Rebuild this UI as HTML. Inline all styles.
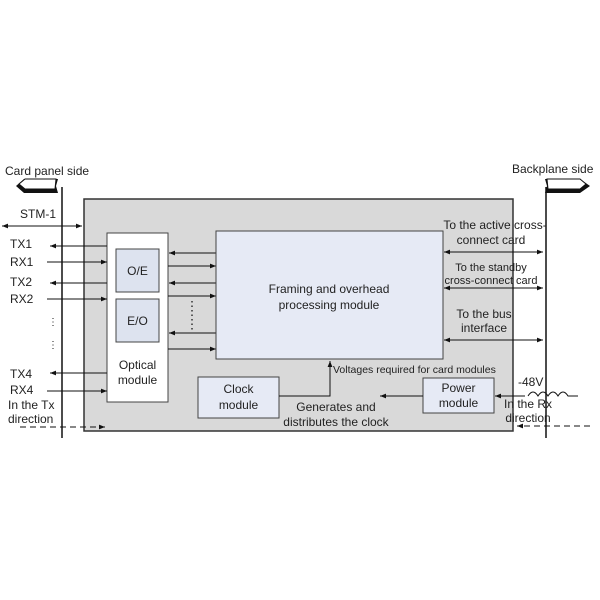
<!DOCTYPE html>
<html><head><meta charset="utf-8"><style>
html,body{margin:0;padding:0;background:#fff;}
svg{display:block;}
text{font-family:"Liberation Sans",Arial,sans-serif;fill:#222;}
</style></head><body>
<svg width="600" height="600" viewBox="0 0 600 600" xmlns="http://www.w3.org/2000/svg">
<defs>
<marker id="a" viewBox="0 0 10 10" refX="10" refY="5" markerWidth="7" markerHeight="6" orient="auto-start-reverse" markerUnits="userSpaceOnUse"><path d="M0,1 L10,5 L0,9 z" fill="#111"/></marker>
</defs>
<!-- outer box -->
<rect x="84" y="199" width="429" height="232" fill="#d9d9d9" stroke="#333" stroke-width="1.5"/>
<!-- vertical lines -->
<line x1="62" y1="187" x2="62" y2="438" stroke="#111" stroke-width="1.5"/>
<line x1="546" y1="187" x2="546" y2="438" stroke="#111" stroke-width="1.5"/>
<!-- fat arrows -->
<path d="M58,179 L24,179 L16,186 L24,193 L58,193 L56,186 Z" fill="#111"/>
<path d="M56,179 L25,179 L19,184 L25,189 L55,189 Z" fill="#fff" stroke="#111" stroke-width="1"/>
<path d="M545,179 L580,179 L590,186 L580,193 L545,193 L547,186 Z" fill="#111"/>
<path d="M547,179 L580,179 L586,184 L580,189 L548,189 Z" fill="#fff" stroke="#111" stroke-width="1"/>
<text x="5" y="175" font-size="12">Card panel side</text>
<text x="512" y="173" font-size="12">Backplane side</text>
<!-- STM-1 -->
<text x="20" y="218" font-size="12">STM-1</text>
<line x1="2" y1="226" x2="82" y2="226" stroke="#111" marker-start="url(#a)" marker-end="url(#a)"/>
<!-- optical module -->
<rect x="107" y="233" width="61" height="169" fill="#fff" stroke="#444"/>
<rect x="116" y="249" width="43" height="43" fill="#dde3ef" stroke="#444"/>
<rect x="116" y="299" width="43" height="43" fill="#dde3ef" stroke="#444"/>
<text x="137.5" y="275" font-size="12" text-anchor="middle">O/E</text>
<text x="137.5" y="325" font-size="12" text-anchor="middle">E/O</text>
<text x="137.5" y="369" font-size="12" text-anchor="middle">Optical</text>
<text x="137.5" y="384" font-size="12" text-anchor="middle">module</text>
<!-- TX/RX -->
<g font-size="12">
<text x="10" y="248">TX1</text><text x="10" y="266">RX1</text>
<text x="10" y="286">TX2</text><text x="10" y="303">RX2</text>
<text x="10" y="378">TX4</text><text x="10" y="394">RX4</text>
<text x="8" y="409">In the Tx</text><text x="8" y="423">direction</text>
<text x="48" y="325" font-size="10">⋮</text><text x="48" y="348" font-size="10">⋮</text>
</g>
<g stroke="#111" fill="none">
<line x1="107" y1="246" x2="50" y2="246" marker-end="url(#a)"/>
<line x1="47" y1="262" x2="107" y2="262" marker-end="url(#a)"/>
<line x1="107" y1="283" x2="50" y2="283" marker-end="url(#a)"/>
<line x1="47" y1="299" x2="107" y2="299" marker-end="url(#a)"/>
<line x1="107" y1="373" x2="50" y2="373" marker-end="url(#a)"/>
<line x1="47" y1="391" x2="107" y2="391" marker-end="url(#a)"/>
<line x1="20" y1="427" x2="105" y2="427" stroke-dasharray="6,4" marker-end="url(#a)"/>
<!-- opt to framing -->
<line x1="216" y1="253" x2="169" y2="253" marker-end="url(#a)"/>
<line x1="168" y1="266" x2="216" y2="266" marker-end="url(#a)"/>
<line x1="216" y1="283" x2="169" y2="283" marker-end="url(#a)"/>
<line x1="168" y1="296" x2="216" y2="296" marker-end="url(#a)"/>
<line x1="216" y1="333" x2="169" y2="333" marker-end="url(#a)"/>
<line x1="168" y1="349" x2="216" y2="349" marker-end="url(#a)"/>
</g>
<line x1="192" y1="301" x2="192" y2="330" stroke="#333" stroke-width="1.5" stroke-dasharray="1.5,3"/>
<!-- framing -->
<rect x="216" y="231" width="227" height="128" fill="#e6eaf5" stroke="#444"/>
<text x="329" y="293" font-size="12" text-anchor="middle">Framing and overhead</text>
<text x="329" y="309" font-size="12" text-anchor="middle">processing module</text>
<!-- right side -->
<g font-size="12" text-anchor="middle">
<text x="495" y="229">To the active cross-</text>
<text x="491" y="244">connect card</text>
<text x="491" y="271" font-size="11">To the standby</text>
<text x="491" y="284" font-size="11">cross-connect card</text>
<text x="484" y="318">To the bus</text>
<text x="484" y="332">interface</text>
</g>
<g stroke="#111">
<line x1="444" y1="252" x2="543" y2="252" marker-start="url(#a)" marker-end="url(#a)"/>
<line x1="444" y1="288" x2="543" y2="288" marker-start="url(#a)" marker-end="url(#a)"/>
<line x1="444" y1="340" x2="543" y2="340" marker-start="url(#a)" marker-end="url(#a)"/>
</g>
<!-- clock -->
<rect x="198" y="377" width="81" height="41" fill="#e6eaf5" stroke="#444"/>
<text x="238.5" y="393" font-size="12" text-anchor="middle">Clock</text>
<text x="238.5" y="409" font-size="12" text-anchor="middle">module</text>
<polyline points="279,396 330,396 330,361" fill="none" stroke="#111" marker-end="url(#a)"/>
<text x="333" y="373" font-size="10.5">Voltages required for card modules</text>
<text x="336" y="411" font-size="12" text-anchor="middle">Generates and</text>
<text x="336" y="426" font-size="12" text-anchor="middle">distributes the clock</text>
<!-- power -->
<rect x="423" y="378" width="71" height="35" fill="#e6eaf5" stroke="#444"/>
<text x="458.5" y="392" font-size="12" text-anchor="middle">Power</text>
<text x="458.5" y="407" font-size="12" text-anchor="middle">module</text>
<line x1="423" y1="396" x2="380" y2="396" stroke="#111" marker-end="url(#a)"/>
<line x1="525" y1="396" x2="495" y2="396" stroke="#111" marker-end="url(#a)"/>
<text x="518" y="386" font-size="12">-48V</text>
<path d="M528,396 q5,-8 10,0 q5,-8 10,0 q5,-8 10,0 q5,-8 10,0 L578,396" fill="none" stroke="#111"/>
<text x="528" y="408" font-size="12" text-anchor="middle">In the Rx</text>
<text x="528" y="422" font-size="12" text-anchor="middle">direction</text>
<line x1="590" y1="426" x2="517" y2="426" stroke="#111" stroke-dasharray="6,4" marker-end="url(#a)"/>
</svg>
</body></html>
